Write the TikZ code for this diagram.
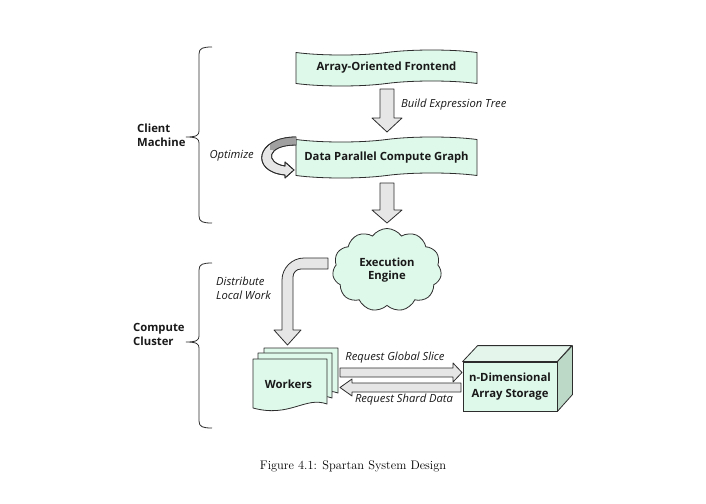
\documentclass[tikz,border=0pt]{standalone}
\usepackage{fontspec}
\newfontfamily\osans{Open Sans}
\usetikzlibrary{shapes.symbols}
\definecolor{mint}{RGB}{222,248,234}
\definecolor{mintside}{RGB}{188,216,198}
\definecolor{minttop}{RGB}{228,246,236}
\definecolor{arrowgray}{RGB}{230,230,230}
\definecolor{darkrib}{RGB}{160,160,160}
\definecolor{edge}{RGB}{45,45,45}
\begin{document}
\begin{tikzpicture}[x=1pt,y=-1pt,
  boldlbl/.style={font=\osans\bfseries\fontsize{11.3}{13.5}\selectfont, align=center, inner sep=0pt, text=black!90},
  ital/.style={font=\osans\itshape\fontsize{11.2}{13.5}\selectfont, align=left, inner sep=0pt, text=black!90},
  tapebox/.style={tape, tape bend top=in and out, tape bend bottom=in and out, tape bend height=5pt,
     fill=mint, draw=edge, line width=0.8pt, boldlbl},
  blockarrow/.style={fill=arrowgray, draw=edge, line width=0.8pt, line join=round},
  shapeline/.style={draw=edge, line width=0.8pt, line join=round},
  bracepath/.style={draw=edge, line width=0.8pt}]
\useasboundingbox[fill=white] (0,0) rectangle (706,503);

% ---- client machine ----
\node[tapebox, minimum width=181pt, minimum height=36pt] (front) at (386.5,68) {Array-Oriented Frontend};
\node[tapebox, minimum width=181pt, minimum height=41pt] (graph) at (386.5,157.5) {Data Parallel Compute Graph};

% down arrow 1
\draw[blockarrow] (380,89) -- (394,89) -- (394,118) -- (402,118) -- (387,132) -- (372,118) -- (380,118) -- cycle;
\node[ital, anchor=west] (build) at (401,105) {Build Expression Tree};

% optimize ribbon
\draw[blockarrow] (296,137) .. controls (255,137) and (250,172) .. (285,175) -- (285,178) -- (294,170) -- (285,162) -- (285,166) .. controls (265,163) and (266,145) .. (296,145) -- cycle;
\begin{scope}
\clip (270,130) rectangle (296,149);
\fill[darkrib] (296,137) .. controls (255,137) and (250,172) .. (285,175) -- (285,166) .. controls (265,163) and (266,145) .. (296,145) -- cycle;
\end{scope}
\draw[shapeline] (296,137) .. controls (255,137) and (250,172) .. (285,175) -- (285,178) -- (294,170) -- (285,162) -- (285,166) .. controls (265,163) and (266,145) .. (296,145);
\node[ital, anchor=east] (opt) at (254,156) {Optimize};

% down arrow 2
\draw[blockarrow] (380,183) -- (394,183) -- (394,210) -- (402,210) -- (387,223) -- (372,210) -- (380,210) -- cycle;

% ---- compute cluster ----
\node[cloud, cloud puffs=11, cloud puff arc=110, aspect=1.3, minimum width=109pt, minimum height=83pt,
  fill=mint, draw=edge, line width=0.8pt, boldlbl] (engine) at (387,270) {Execution\\Engine};

% bent arrow
\draw[blockarrow] (328,258) -- (304,258) .. controls (292,258) and (282,268) .. (282,280) -- (282,330) -- (274,330) -- (287.5,345) -- (301,330) -- (293,330) -- (293,277) .. controls (293,272.5) and (296.5,269) .. (301,269) -- (328,269) -- cycle;
\node[ital, anchor=west] (distr) at (216,288.5) {Distribute\\Local Work};

% workers stack
\foreach \dx/\dy in {11/-11, 5/-6, 0/0}{
  \draw[shapeline, fill=mint] ([shift={(\dx,\dy)}]253,359) -- ([shift={(\dx,\dy)}]327,359) -- ([shift={(\dx,\dy)}]327,404)
     .. controls ([shift={(\dx,\dy)}]305,396) and ([shift={(\dx,\dy)}]290,418) .. ([shift={(\dx,\dy)}]253,408) -- cycle;
}
\node[boldlbl] (workers) at (288.5,384) {Workers};

% storage cube
\node[rectangle, fill=mint, draw=edge, line width=0.8pt, minimum width=94pt, minimum height=49pt, boldlbl,
  font=\osans\bfseries\fontsize{11.3}{15.5}\selectfont] (storage) at (510,386.5) {n-Dimensional\\Array Storage};
\draw[shapeline, fill=minttop] (storage.north west) -- ++(15,-16) -- ++(94,0) -- (storage.north east) -- cycle;
\draw[shapeline, fill=mintside] (storage.north east) -- ++(15,-16) -- ++(0,49) -- (storage.south east) -- cycle;

% request arrows
\draw[blockarrow] (340,368) -- (453,368) -- (453,363) -- (462,372.5) -- (453,382) -- (453,377) -- (340,377) -- cycle;
\draw[blockarrow] (461,383) -- (352,383) -- (352,379) -- (340,387.5) -- (352,396) -- (352,392) -- (461,392) -- cycle;
\node[ital] (reqg) at (395,358) {Request Global Slice};
\node[ital] (reqs) at (404,399.5) {Request Shard Data};

% braces and labels
\draw[bracepath] (212,47) .. controls (203,47) and (199,48) .. (199,54) -- (199,131) .. controls (199,135) and (197,137) .. (186,137)
  .. controls (197,137) and (199,139) .. (199,143) -- (199,216) .. controls (199,222) and (203,223) .. (212,223);
\node[boldlbl, align=left, anchor=west] (client) at (137,135.5) {Client\\Machine};
\draw[bracepath] (212,263) .. controls (203,263) and (199,264) .. (199,270) -- (199,336) .. controls (199,340) and (197,342) .. (186,342)
  .. controls (197,342) and (199,344) .. (199,348) -- (199,421) .. controls (199,427) and (203,428) .. (212,428);
\node[boldlbl, align=left, anchor=west] (cluster) at (133,334.5) {Compute\\Cluster};

% caption
\node[font=\fontsize{12.4}{14}\selectfont, inner sep=0pt] (caption) at (353,466) {Figure 4.1: Spartan System Design};
\end{tikzpicture}
\end{document}
